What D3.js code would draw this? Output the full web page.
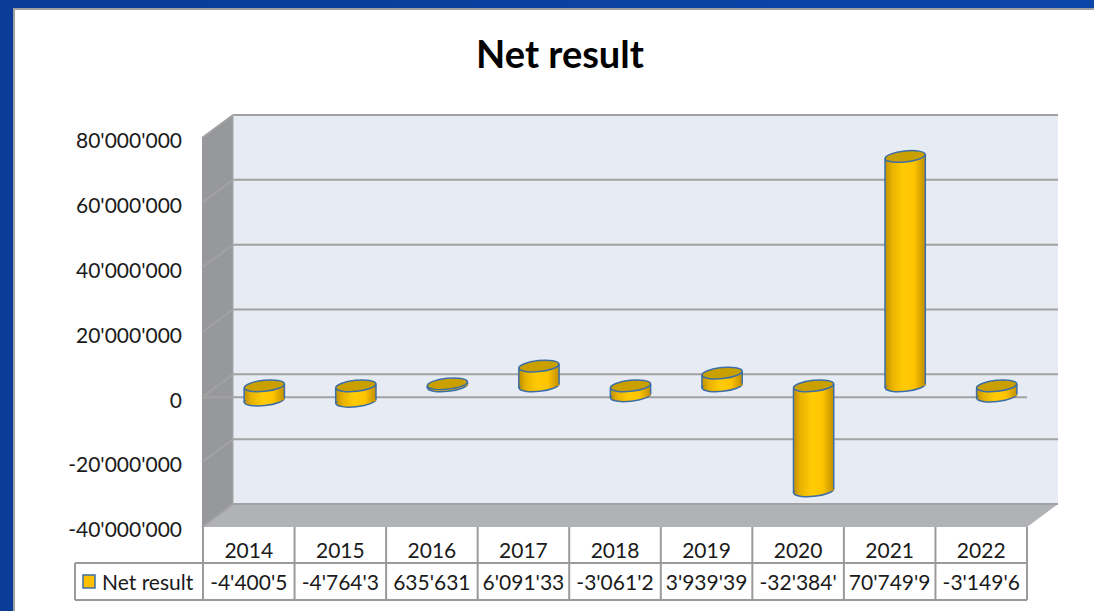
<!DOCTYPE html>
<html>
<head>
<meta charset="utf-8">
<script src="https://cdn.jsdelivr.net/npm/d3@7/dist/d3.min.js"></script>
<style>
  body { margin: 0; background: #fff; }
  text { font-family: Lato, "Open Sans", sans-serif; fill: #1a1a1a; }
</style>
</head>
<body>
<svg id="chart" width="1094" height="611"></svg>
<script>
// data
const years = ["2014", "2015", "2016", "2017", "2018", "2019", "2020", "2021", "2022"];
const netResult = [-4400500, -4764300, 635631, 6091330, -3061200, 3939390, -32384000, 70749900, -3149600];
const tableLabels = ["-4'400'5", "-4'764'3", "635'631", "6'091'33", "-3'061'2", "3'939'39", "-32'384'", "70'749'9", "-3'149'6"];
const yTicks = [-40000000, -20000000, 0, 20000000, 40000000, 60000000, 80000000];
const seriesName = "Net result";

const svg = d3.select('#chart');
const width = +svg.attr('width');
const height = +svg.attr('height');

// 3d depth offset (front plane -> back wall)
const depthX = 31, depthY = -23;
const plot = { left: 202, right: 1027, top: 138, bottom: 527 };

const locale = d3.formatLocale({ decimal: ".", thousands: "'", grouping: [3], currency: ["", ""], minus: "-" });
const fmt = locale.format(",d");

const xScale = d3.scaleBand()
  .domain(years)
  .range([plot.left + 1, plot.right]);

const yScale = d3.scaleLinear()
  .domain([-40000000, 80000000])
  .range([plot.bottom, plot.top]);

const yAxis = d3.axisLeft()
  .scale(yScale)
  .tickValues(yTicks)
  .tickSize(0)
  .tickPadding(20)
  .tickFormat(fmt);

// gradients
const defs = svg.append('defs');
const grad = defs.append('linearGradient').attr('id', 'cyl').attr('x1', '0%').attr('x2', '100%');
grad.append('stop').attr('offset', '0%').attr('stop-color', '#c08f00');
grad.append('stop').attr('offset', '18%').attr('stop-color', '#e9b300');
grad.append('stop').attr('offset', '45%').attr('stop-color', '#ffcb05');
grad.append('stop').attr('offset', '72%').attr('stop-color', '#ffc400');
grad.append('stop').attr('offset', '100%').attr('stop-color', '#c08f00');

const frameGrad = defs.append('linearGradient').attr('id', 'frame').attr('x1', '0%').attr('x2', '100%');
frameGrad.append('stop').attr('offset', '0%').attr('stop-color', '#0a3c98');
frameGrad.append('stop').attr('offset', '100%').attr('stop-color', '#0c45a8');

// window frame
svg.append('rect').attr('width', width).attr('height', height).attr('fill', 'url(#frame)');
svg.append('rect').attr('x', 13).attr('y', 8).attr('width', width - 13).attr('height', height - 8)
  .attr('fill', '#a0a0a0');
svg.append('rect').attr('x', 15).attr('y', 10).attr('width', width - 15).attr('height', height - 10)
  .attr('fill', '#ffffff');

// title
svg.append('text')
  .attr('x', 560)
  .attr('y', 68)
  .attr('text-anchor', 'middle')
  .style('font-size', '38px')
  .style('font-weight', 'bold')
  .style('fill', '#000')
  .text('Net result');

// walls
const yTop = yScale(80000000), yBot = yScale(-40000000);
const wallG = svg.append('g');
wallG.append('rect')
  .attr('x', plot.left + depthX).attr('y', yTop + depthY)
  .attr('width', plot.right - plot.left).attr('height', yBot - yTop)
  .attr('fill', '#e7ebf4');
wallG.append('polygon')
  .attr('points', [[plot.left, yTop], [plot.left + depthX, yTop + depthY],
    [plot.left + depthX, yBot + depthY], [plot.left, yBot]].join(' '))
  .attr('fill', '#96989b');
wallG.append('polygon')
  .attr('points', [[plot.left, yBot], [plot.left + depthX, yBot + depthY],
    [plot.right + depthX, yBot + depthY], [plot.right, yBot]].join(' '))
  .attr('fill', '#b0b2b6');

// gridlines on back wall + side wall
const gridG = svg.append('g')
  .attr('stroke', '#a2a2a2')
  .attr('stroke-width', 2)
  .attr('fill', 'none');
yTicks.forEach(function (t) {
  const y = yScale(t);
  gridG.append('line')
    .attr('x1', plot.left + depthX).attr('x2', plot.right + depthX)
    .attr('y1', y + depthY).attr('y2', y + depthY);
  gridG.append('line')
    .attr('x1', plot.left).attr('x2', plot.left + depthX)
    .attr('y1', y).attr('y2', y + depthY);
});
gridG.append('line')
  .attr('x1', plot.left + depthX).attr('x2', plot.left + depthX)
  .attr('y1', yTop + depthY).attr('y2', yBot + depthY)
  .attr('stroke', '#a8a8a8').attr('stroke-width', 1);

// zero line at the front plane
svg.append('line')
  .attr('x1', plot.left).attr('x2', plot.right)
  .attr('y1', yScale(0)).attr('y2', yScale(0))
  .attr('stroke', '#a2a2a2').attr('stroke-width', 2);

// cylinders, at half depth
const rx = xScale.bandwidth() * 0.22, ry = 5.5, tilt = -6;
const barsG = svg.append('g').attr('transform', `translate(${depthX / 2}, ${depthY / 2})`);
const bars = barsG.selectAll('g')
  .data(years.map(function (y, i) { return { year: y, value: netResult[i] }; }))
  .enter()
  .append('g')
  .attr('transform', function (d) { return `translate(${xScale(d.year) + xScale.bandwidth() / 2}, 0)`; });

bars.append('ellipse')
  .attr('cx', 0)
  .attr('cy', function (d) { return yScale(Math.min(0, d.value)); })
  .attr('rx', rx).attr('ry', ry)
  .attr('transform', function (d) { return `rotate(${tilt}, 0, ${yScale(Math.min(0, d.value))})`; })
  .attr('fill', 'url(#cyl)')
  .attr('stroke', '#3d6ea5').attr('stroke-width', 1.5);

bars.append('rect')
  .attr('x', -rx)
  .attr('y', function (d) { return yScale(Math.max(0, d.value)); })
  .attr('width', rx * 2)
  .attr('height', function (d) { return yScale(Math.min(0, d.value)) - yScale(Math.max(0, d.value)); })
  .attr('fill', 'url(#cyl)');

bars.each(function (d) {
  const g = d3.select(this);
  const y0 = yScale(Math.max(0, d.value)), y1 = yScale(Math.min(0, d.value));
  const off = Math.sin(-tilt * Math.PI / 180) * rx;
  g.append('line').attr('x1', -rx).attr('x2', -rx).attr('y1', y0 + off).attr('y2', y1 + off)
    .attr('stroke', '#3d6ea5').attr('stroke-width', 1.5);
  g.append('line').attr('x1', rx).attr('x2', rx).attr('y1', y0 - off).attr('y2', y1 - off)
    .attr('stroke', '#3d6ea5').attr('stroke-width', 1.5);
});

bars.append('ellipse')
  .attr('cx', 0)
  .attr('cy', function (d) { return yScale(Math.max(0, d.value)); })
  .attr('rx', rx).attr('ry', ry)
  .attr('transform', function (d) { return `rotate(${tilt}, 0, ${yScale(Math.max(0, d.value))})`; })
  .attr('fill', '#c9a000')
  .attr('stroke', '#3d6ea5').attr('stroke-width', 1.5);

// y axis labels on the front plane
const yAxisG = svg.append('g').attr('transform', `translate(${plot.left}, 3)`);
yAxisG.call(yAxis);
yAxisG.select('.domain').remove();
yAxisG.selectAll('.tick text')
  .style('font-size', '21px')
  .style('font-family', 'Lato, sans-serif')
  .attr('fill', '#1a1a1a');

// data table
const rowTop = plot.bottom, rowMid = 563, rowBot = 600, legendLeft = 75;
const tableG = svg.append('g');
tableG.append('rect')
  .attr('x', plot.left).attr('y', rowTop)
  .attr('width', plot.right - plot.left).attr('height', rowBot - rowTop)
  .attr('fill', '#fff');
const lineG = tableG.append('g').attr('stroke', '#9a9a9a').attr('stroke-width', 2);
years.forEach(function (y) {
  lineG.append('line')
    .attr('x1', xScale(y)).attr('x2', xScale(y))
    .attr('y1', rowTop).attr('y2', rowBot);
});
lineG.append('line').attr('x1', plot.right).attr('x2', plot.right).attr('y1', rowTop).attr('y2', rowBot);
lineG.append('line').attr('x1', legendLeft).attr('x2', legendLeft).attr('y1', rowMid).attr('y2', rowBot);
lineG.append('line').attr('x1', legendLeft).attr('x2', plot.right).attr('y1', rowMid).attr('y2', rowMid);
lineG.append('line').attr('x1', legendLeft).attr('x2', plot.right).attr('y1', rowBot).attr('y2', rowBot);

tableG.selectAll('.year-label')
  .data(years)
  .enter()
  .append('text')
  .attr('class', 'year-label')
  .attr('x', function (d) { return xScale(d) + xScale.bandwidth() / 2; })
  .attr('y', 558)
  .attr('text-anchor', 'middle')
  .style('font-size', '21px')
  .text(function (d) { return d; });

tableG.selectAll('.value-label')
  .data(tableLabels)
  .enter()
  .append('text')
  .attr('class', 'value-label')
  .attr('x', function (d, i) { return xScale(years[i]) + xScale.bandwidth() / 2; })
  .attr('y', 590)
  .attr('text-anchor', 'middle')
  .style('font-size', '21px')
  .text(function (d) { return d; });

// legend key
tableG.append('rect')
  .attr('x', 83).attr('y', 575).attr('width', 12).attr('height', 13)
  .attr('fill', '#ffc000').attr('stroke', '#3d6ea5').attr('stroke-width', 1.5);
tableG.append('text')
  .attr('x', 102).attr('y', 590)
  .style('font-size', '21px')
  .text(seriesName);
</script>
</body>
</html>
